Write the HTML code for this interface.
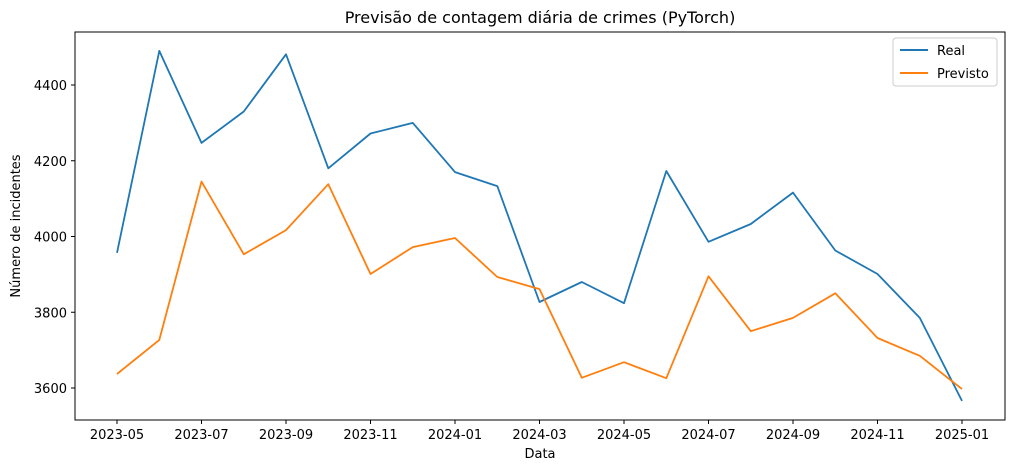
<!DOCTYPE html>
<html><head><meta charset="utf-8"><style>
body{margin:0;background:#fff;}
svg text{font-family:"DejaVu Sans","Liberation Sans",sans-serif;fill:#000;}
</style></head><body>
<svg id="chart" width="1014" height="471" xmlns="http://www.w3.org/2000/svg">
<text x="540" y="23" font-size="16" text-anchor="middle">Previsão de contagem diária de crimes (PyTorch)</text>
<text x="540" y="458" font-size="13" text-anchor="middle">Data</text>
<text x="20" y="226" font-size="13" text-anchor="middle" transform="rotate(-90 20 226)">Número de incidentes</text>
<g id="axes"></g>
<g id="series"></g>
<rect x="75" y="32" width="930" height="388" fill="none" stroke="#000" stroke-width="1"/>
<g>
<rect x="893" y="38" width="104" height="48" fill="#fff" stroke="#ccc" rx="3"/>
<line x1="900" y1="50" x2="928" y2="50" stroke="#1f77b4" stroke-width="2"/>
<text x="937" y="55" font-size="13">Real</text>
<line x1="900" y1="73" x2="928" y2="73" stroke="#ff7f0e" stroke-width="2"/>
<text x="937" y="78" font-size="13">Previsto</text>
</g>
</svg>
<script>
const months = ["2023-04","2023-05","2023-06","2023-07","2023-08","2023-09","2023-10","2023-11","2023-12","2024-01","2024-02","2024-03","2024-04","2024-05","2024-06","2024-07","2024-08","2024-09","2024-10","2024-11","2024-12"];
const realValues = [3957,4490,4247,4330,4481,4180,4272,4300,4170,4133,3827,3880,3824,4173,3986,4033,4116,3963,3901,3785,3566];
const previstoValues = [3637,3727,4145,3953,4017,4138,3901,3972,3996,3893,3861,3627,3668,3626,3895,3750,3785,3850,3732,3685,3597];
const xTickLabels = ["2023-05","2023-07","2023-09","2023-11","2024-01","2024-03","2024-05","2024-07","2024-09","2024-11","2025-01"];
const yTicks = [3600,3800,4000,4200,4400];

const NS="http://www.w3.org/2000/svg";
function xScale(i){return 117 + i*42.25;}
function yScale(v){return 85 + (4400 - v)/200*75.75;}
const axes=document.getElementById('axes');
function mk(tag,attrs,parent){const e=document.createElementNS(NS,tag);for(const k in attrs)e.setAttribute(k,attrs[k]);parent.appendChild(e);return e;}
yTicks.forEach(v=>{
  const y=yScale(v);
  const t=mk('line',{x1:71,x2:75,y1:y,y2:y,stroke:'#000'},axes);
  
  
  const l=mk('text',{x:67,y:y+5,'font-size':13,'text-anchor':'end'},axes);
  l.textContent=v;
  
  
});
xTickLabels.forEach((s,k)=>{
  const x=xScale(k*2);
  const t=mk('line',{x1:x,x2:x,y1:420,y2:424,stroke:'#000'},axes);
  
  
  const l=mk('text',{x:x,y:439,'font-size':13,'text-anchor':'middle'},axes);
  l.textContent=s;
  
  
});
const series=document.getElementById('series');
function drawLine(vals,color,name){
  const pts=vals.map((v,i)=>xScale(i).toFixed(1)+','+yScale(v).toFixed(1)).join(' ');
  const p=mk('polyline',{points:pts,fill:'none',stroke:color,'stroke-width':1.8,'stroke-linejoin':'round'},series);
  
  
}
drawLine(realValues,'#1f77b4','real-line');
drawLine(previstoValues,'#ff7f0e','previsto-line');
</script>
</body></html>
